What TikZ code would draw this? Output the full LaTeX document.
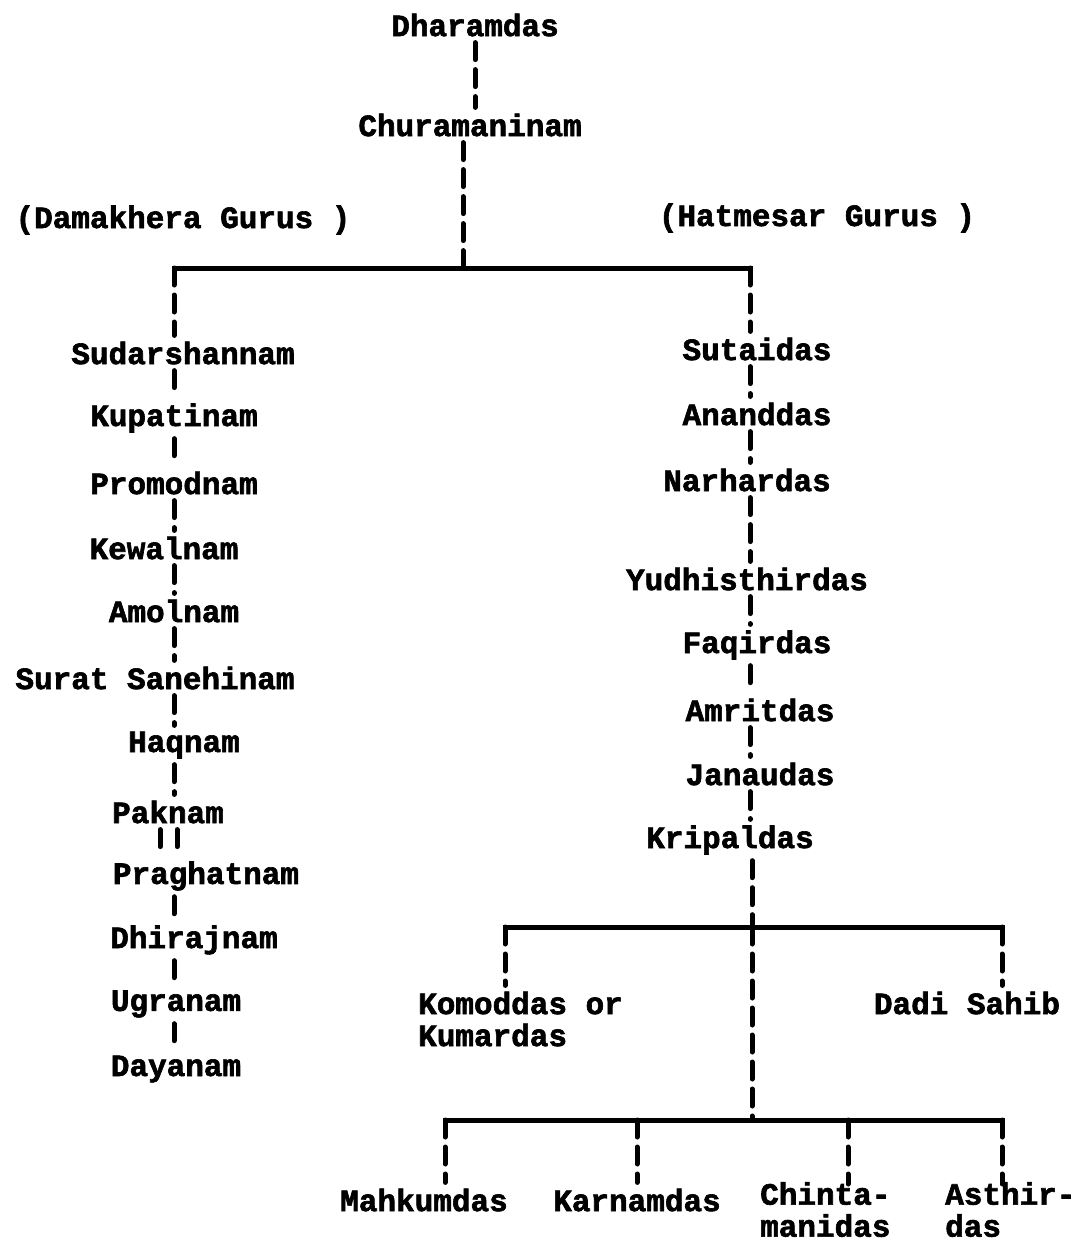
\documentclass[tikz,border=0pt]{standalone}
\usepackage{fontspec}
\setmainfont{Liberation Mono}[BoldFeatures={FakeBold=2}]
\usetikzlibrary{positioning}

\tikzset{
  guru/.style={font=\fontsize{31}{32}\selectfont\bfseries, inner sep=6pt},
  chain/.style={line width=5pt, line cap=round, dash pattern=on 17pt off 10pt},
  bar/.style={line width=5pt, line cap=rect}
}

\begin{document}
\begin{tikzpicture}[x=1pt, y=-1pt]
\useasboundingbox (0,0) rectangle (1075,1242);

% Founder and his successor
\node[guru] (dhar) at (475,25) {Dharamdas};
\node[guru] (chur) at (470,125) {Churamaninam};
\node[guru] (dama) at (183,220) {(Damakhera Gurus )};
\node[guru] (hatm) at (817,218) {(Hatmesar Gurus )};
\coordinate (split) at (463,268);
\coordinate (lcol) at (174,268);
\coordinate (rcol) at (750,268);
\draw[chain] (dhar.south) -- (chur.north -| dhar.south);
\draw[chain] (chur.south -| split) -- (split);
\draw[bar] (lcol) -- (rcol);

% Damakhera line
\node[guru] (sud) at (183,353) {Sudarshannam};
\node[guru] (kup) at (174,418) {Kupatinam};
\node[guru] (pro) at (174,483) {Promodnam};
\node[guru] (kew) at (164,548) {Kewalnam};
\node[guru] (amo) at (174,611) {Amolnam};
\node[guru] (sur) at (155,678) {Surat Sanehinam};
\node[guru] (haq) at (184,745) {Haqnam};
\node[guru] (pak) at (168,812) {Paknam};
\node[guru] (pra) at (206,876) {Praghatnam};
\node[guru] (dhi) at (194,940) {Dhirajnam};
\node[guru] (ugr) at (176,1004) {Ugranam};
\node[guru] (day) at (176,1069) {Dayanam};
\draw[chain] (lcol) -- (sud.north -| lcol);
\foreach \a/\b in {sud/kup, kup/pro, pro/kew, kew/amo, amo/sur, sur/haq, haq/pak, pra/dhi, dhi/ugr, ugr/day}
  \draw[chain] (\a.south -| lcol) -- (\b.north -| lcol);
\draw[chain] ([xshift=-14pt]pak.south -| lcol) -- ([xshift=-14pt]pra.north -| lcol);
\draw[chain] ([xshift=3pt]pak.south -| lcol) -- ([xshift=3pt]pra.north -| lcol);

% Hatmesar line
\node[guru] (sut) at (757,349) {Sutaidas};
\node[guru] (ana) at (757,414) {Ananddas};
\node[guru] (nar) at (747,480) {Narhardas};
\node[guru] (yud) at (747,579) {Yudhisthirdas};
\node[guru] (faq) at (757,645) {Faqirdas};
\node[guru] (amr) at (760,710) {Amritdas};
\node[guru] (jan) at (760,774) {Janaudas};
\node[guru] (kri) at (730,840) {Kripaldas};
\draw[chain] (rcol) -- (sut.north -| rcol);
\foreach \a/\b in {sut/ana, ana/nar, nar/yud, yud/faq, faq/amr, amr/jan, jan/kri}
  \draw[chain] (\a.south -| rcol) -- (\b.north -| rcol);

% Kripaldas branches
\coordinate (kmid) at (752,927);
\coordinate (kl) at (505,927);
\coordinate (kr) at (1002,927);
\coordinate (bmid) at (752,1120);
\draw[chain] (kri.south -| kmid) -- (kmid);
\draw[bar] (kl) -- (kr);
\node[guru, anchor=west, align=left] (kom) at (412,1019) {Komoddas or\\Kumardas};
\node[guru] (dad) at (967,1003) {Dadi Sahib};
\draw[chain] (kl) -- (kom.north -| kl);
\draw[chain] (kr) -- (dad.north -| kr);
\draw[chain] (kmid) -- (bmid);

% Last generation
\coordinate (m1) at (445,1120);
\coordinate (m2) at (637,1120);
\coordinate (m3) at (848,1120);
\coordinate (m4) at (1002,1120);
\draw[bar] (m1) -- (m4);
\node[guru] (mah) at (424,1200) {Mahkumdas};
\node[guru] (kar) at (637,1200) {Karnamdas};
\node[guru, anchor=north west, align=left, inner ysep=2pt] (chi) at (754,1180) {Chinta-\\manidas};
\node[guru, anchor=north west, align=left, inner ysep=2pt] (ast) at (939,1180) {Asthir-\\das};
\draw[chain] (m1) -- (mah.north -| m1);
\draw[chain] (m2) -- (kar.north -| m2);
\draw[chain] (m3) -- ([yshift=-4pt]chi.north -| m3);
\draw[chain] (m4) -- ([yshift=-4pt]ast.north -| m4);
\end{tikzpicture}
\end{document}
